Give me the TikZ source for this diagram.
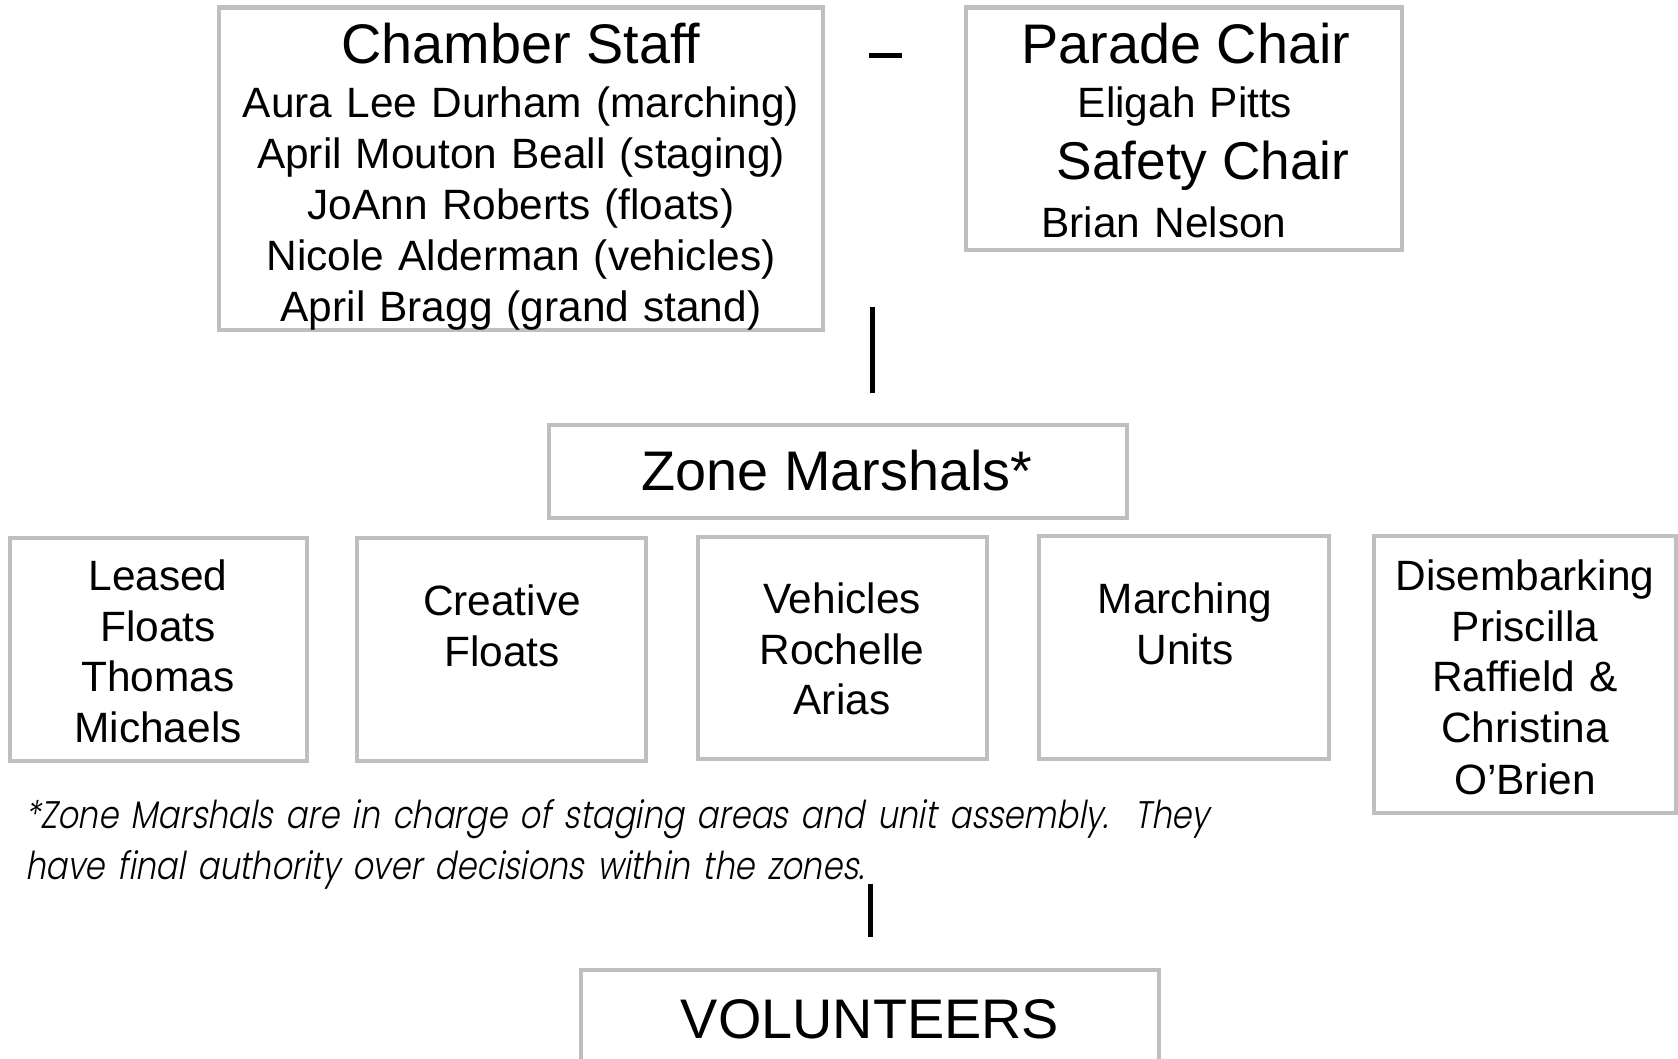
\documentclass[tikz,border=0pt]{standalone}
\usepackage{fontspec}
\setmainfont{Liberation Sans}
\newfontfamily\notefont[FakeSlant=0.18,FakeStretch=0.835]{Poppins Light}
\definecolor{boxgray}{HTML}{BFBFBF}
\tikzset{
  box/.style={draw=boxgray, line width=2.4pt, inner sep=0pt, rectangle},
  conn/.style={draw=black, line width=2.5pt},
  big/.style={anchor=base, inner sep=0pt, font=\fontsize{27.9}{33}\selectfont},
  small/.style={anchor=base, inner sep=0pt, text width=#1, align=center, font=\fontsize{21.2}{25.5}\selectfont},
  small/.default=200pt,
  note/.style={anchor=base west, inner sep=0pt, text width=660pt, align=left, font=\notefont\fontsize{19.2}{25.5}\selectfont}
}
\begin{document}
\begin{tikzpicture}[x=0.5pt,y=-0.5pt]
\useasboundingbox (0,0) rectangle (1678,1059);
% boxes
\node[box, minimum width=302pt, minimum height=161.25pt] (chamber) at (521,168.75) {};
\node[box, minimum width=218pt, minimum height=121.25pt] (parade) at (1184,128.75) {};
\node[box, minimum width=289pt, minimum height=46.5pt] (zone) at (838,471.5) {};
\node[box, minimum width=148.5pt, minimum height=111.5pt] (leased) at (158.5,649.5) {};
\node[box, minimum width=144.5pt, minimum height=111.5pt] (creative) at (501.5,649.5) {};
\node[box, minimum width=144.5pt, minimum height=111pt] (vehicles) at (842.5,648) {};
\node[box, minimum width=145pt, minimum height=111.5pt] (marching) at (1184,647.5) {};
\node[box, minimum width=151pt, minimum height=138.5pt] (disemb) at (1525,674.5) {};
\node[box, minimum width=289pt, minimum height=55pt] (volunteers) at (870,1025) {};
% texts
\node[big] (chambert) at (521,64) {Chamber Staff};
\node[small=290pt] (chambern) at (521,118) {Aura Lee Durham (marching)\\April Mouton Beall (staging)\\JoAnn Roberts (floats)\\Nicole Alderman (vehicles)\\April Bragg (grand stand)};
\node[big] (paradet) at (1186,64) {Parade Chair};
\node[small] (paraden) at (1185,118) {Eligah Pitts};
\node[big, font=\fontsize{26.6}{32}\selectfont] (safetyt) at (1203,180) {Safety Chair};
\node[small] (safetyn) at (1164,238) {Brian Nelson};
\node[big] (zonet) at (837,491) {Zone Marshals*};
\node[small=140pt] (leasedt) at (158,590) {Leased\\Floats\\Thomas\\Michaels};
\node[small=140pt] (creativet) at (502,615) {Creative\\Floats};
\node[small=140pt] (vehiclest) at (842,613) {Vehicles\\Rochelle\\Arias};
\node[small=140pt] (marchingt) at (1185,613) {Marching\\Units};
\node[small=150pt] (disembt) at (1525,590) {Disembarking\\Priscilla\\Raffield \&\\Christina\\O’Brien};
\node[big] (volunteerst) at (870,1038) {VOLUNTEERS};
\node[note] (footnote) at (25,828) {*Zone Marshals are in charge of staging areas and unit assembly.\ \ They\\have final authority over decisions within the zones.};
% connectors
\coordinate (d1) at (869,56);
\coordinate (d2) at (902,56);
\draw[conn] (d1) -- (d2);
\coordinate (v1a) at (872,307);
\coordinate (v1b) at (872,393);
\draw[conn] (v1a) -- (v1b);
\coordinate (v2a) at (870,884);
\coordinate (v2b) at (870,937);
\draw[conn] (v2a) -- (v2b);
\end{tikzpicture}
\end{document}
